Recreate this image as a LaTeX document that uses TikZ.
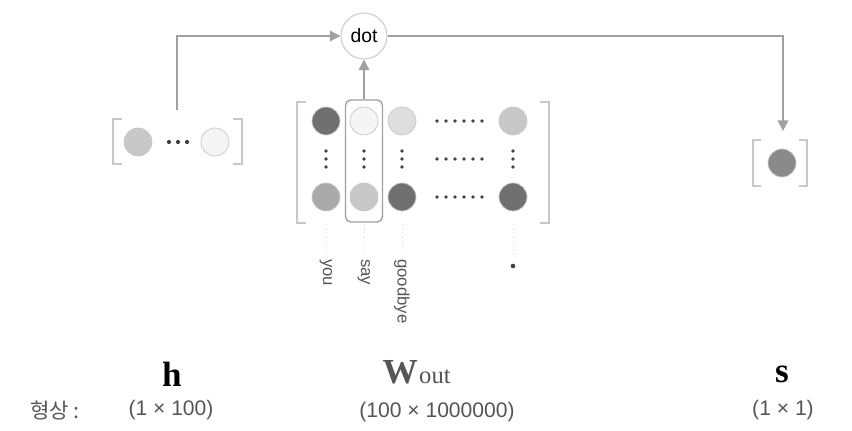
\documentclass[tikz,border=0pt]{standalone}
\usepackage{fontspec}
\setmainfont{Liberation Sans}
\newfontfamily\labelserif{Liberation Serif}
\newfontfamily\kofont{Noto Sans CJK KR}
\usetikzlibrary{arrows.meta, positioning, calc}
\definecolor{linegray}{RGB}{160,160,160}
\definecolor{brackgray}{RGB}{200,200,200}
\definecolor{cdark}{RGB}{112,112,112}
\definecolor{cmid}{RGB}{170,170,170}
\definecolor{clight}{RGB}{200,200,200}
\definecolor{cpale}{RGB}{222,222,222}
\definecolor{cwhite}{RGB}{245,245,245}
\definecolor{sgray}{RGB}{138,138,138}
\definecolor{textgray}{RGB}{85,85,85}

\tikzset{
  cell/.style={circle, minimum size=0.56cm, inner sep=0pt, draw=black!22, line width=0.4pt},
  conn/.style={draw=linegray, line width=0.8pt, -{Triangle[length=6pt,width=6pt]}},
  brack/.style={draw=brackgray, line width=0.8pt},
  guide/.style={draw=black!15, dotted, line width=0.4pt},
  word/.style={rotate=-90, anchor=west, font=\fontsize{9.5}{11}\selectfont, text=textgray, inner sep=0pt},
  dimlab/.style={font=\fontsize{12}{14}\selectfont, text=textgray},
  bigsym/.style={font=\labelserif\bfseries\fontsize{20}{22}\selectfont},
}

\begin{document}
\begin{tikzpicture}[x=0.02cm, y=-0.02cm]
  \useasboundingbox (0,0) rectangle (852,431);

  % dot product node
  \node[circle, draw=black!20, line width=0.6pt, minimum size=0.92cm, inner sep=0pt,
        font=\fontsize{11}{13}\selectfont] (dotop) at (364,36) {dot};

  % h vector
  \draw[brack] (122,119) -- (113,119) -- (113,164) -- (122,164);
  \draw[brack] (233,119) -- (242,119) -- (242,164) -- (233,164);
  \node[cell, fill=clight] (h1) at (138,142) {};
  \node[cell, fill=cwhite] (h2) at (215,142) {};
  \foreach \x in {169,178,187}
    \fill[black!75] (\x,142) circle (1.2pt);
  \coordinate (htop) at (177,110);

  % W_out matrix
  \draw[brack] (306,102) -- (297,102) -- (297,223) -- (306,223);
  \draw[brack] (540,102) -- (549,102) -- (549,223) -- (540,223);
  \node[cell, fill=cdark]  (w11) at (326,121) {};
  \node[cell, fill=cmid]   (w21) at (326,197) {};
  \node[cell, fill=cwhite] (w12) at (364,121) {};
  \node[cell, fill=clight] (w22) at (364,197) {};
  \node[cell, fill=cpale]  (w13) at (402,121) {};
  \node[cell, fill=cdark]  (w23) at (402,197) {};
  \node[cell, fill=clight] (w1n) at (513,121) {};
  \node[cell, fill=cdark]  (w2n) at (513,197) {};
  \foreach \x in {326,364,402,513}
    \foreach \y in {151,159,167}
      \fill[black!75] (\x,\y) circle (1.05pt);
  \foreach \y in {121,159,197}
    \foreach \x in {437,446,455,464,473,482}
      \fill[black!75] (\x,\y) circle (1.05pt);
  \node[draw=linegray, line width=0.8pt, rounded corners=3pt, minimum width=0.74cm,
        minimum height=2.44cm, inner sep=0pt] (saybox) at (364,161) {};

  % column words
  \draw[guide] (326,224) -- (326,252);
  \draw[guide] (364,224) -- (364,252);
  \draw[guide] (402,224) -- (402,252);
  \draw[guide] (513,224) -- (513,256);
  \node[word] (wyou) at (326,259) {you};
  \node[word] (wsay) at (364,259) {say};
  \node[word] (wbye) at (402,259) {goodbye};
  \fill[black!75] (513,266) circle (1.3pt);

  % s vector
  \draw[brack] (761,140) -- (753,140) -- (753,186) -- (761,186);
  \draw[brack] (799,140) -- (807,140) -- (807,186) -- (799,186);
  \node[cell, fill=sgray] (s1) at (782,163) {};
  \coordinate (stop) at (783,131);

  % arrows
  \draw[conn] (htop) |- (dotop.west);
  \draw[conn] (saybox.north) -- (dotop.south);
  \draw[conn] (dotop.east) -| (stop);

  % labels
  \node[bigsym] (hlab) at (172,374) {h};
  \node[bigsym, text=textgray, anchor=base east, inner sep=0pt] (wlab) at (418,384) {W};
  \node[font=\labelserif\fontsize{14}{16}\selectfont, text=textgray, anchor=base west, inner sep=0pt]
    (wsub) at ([xshift=0.5pt]wlab.base east) {out};
  \node[bigsym] (slab) at (782,374) {s};
  \node[font=\kofont\fontsize{12}{14}\selectfont, text=textgray] (shapelab) at (55,411) {형상 :};
  \node[dimlab] (hshape) at (171,410) {(1 × 100)};
  \node[dimlab] (wshape) at (437,412) {(100 × 1000000)};
  \node[dimlab] (sshape) at (783,410) {(1 × 1)};
\end{tikzpicture}
\end{document}
